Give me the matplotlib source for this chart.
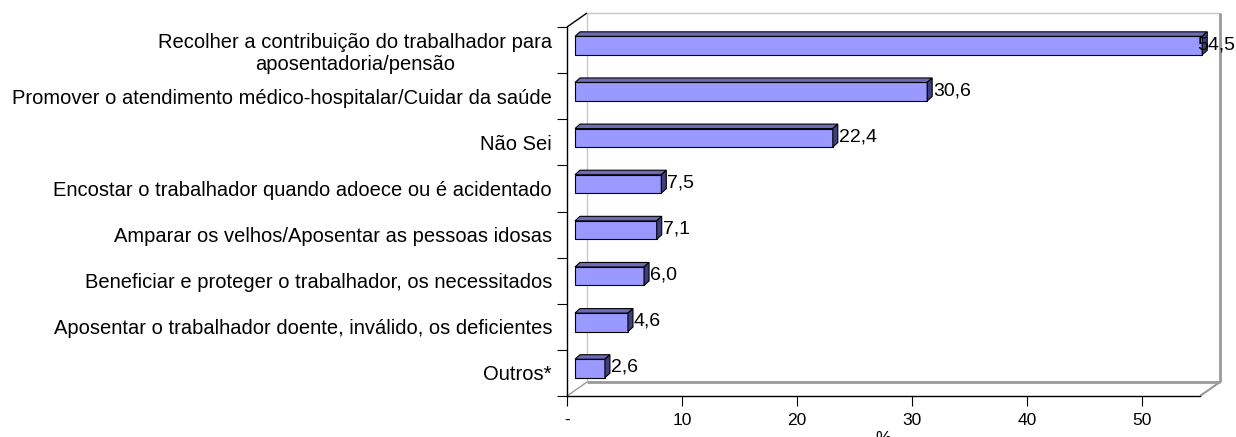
"""
Gráfico de barras 3D (estilo Excel): funções da Previdência Social segundo os entrevistados.
"""

import matplotlib.pyplot as plt
import numpy as np
from matplotlib.patches import Polygon

plt.rcParams["font.family"] = ["Liberation Sans", "DejaVu Sans"]

categories = [
    "Recolher a contribuição do trabalhador para\naposentadoria/pensão",
    "Promover o atendimento médico-hospitalar/Cuidar da saúde",
    "Não Sei",
    "Encostar o trabalhador quando adoece ou é acidentado",
    "Amparar os velhos/Aposentar as pessoas idosas",
    "Beneficiar e proteger o trabalhador, os necessitados",
    "Aposentar o trabalhador doente, inválido, os deficientes",
    "Outros*",
]
values = [54.5, 30.6, 22.4, 7.5, 7.1, 6.0, 4.6, 2.6]
x_ticks = [0, 10, 20, 30, 40, 50]
x_tick_labels = ["-", "10", "20", "30", "40", "50"]
x_max = 55

FACE = "#9999FF"
TOP = "#6B6BB8"
SIDE = "#3F3F80"
WALL_LIGHT = "#C8C8C8"
WALL_DARK = "#999999"

W, H = 1236, 437
fig = plt.figure(figsize=(W / 100, H / 100), dpi=100)
ax = fig.add_axes([567 / W, (H - 396) / H, 633 / W, 369 / H])

n = len(categories)
ax.set_xlim(0, x_max)
ax.set_ylim(n, 0)

# conversion pixels -> unités de données (y inversé)
ux = x_max / 633
uy = n / 369


def off(px, py):
    return px * ux, -py * uy


# parois 3D (mur du fond + plancher)
wdx, wdy = off(20, 14)
kw = dict(clip_on=False, solid_capstyle="butt")
ax.plot([wdx, x_max + wdx], [wdy, wdy], color=WALL_LIGHT, lw=1, **kw)
ax.plot([wdx, wdx], [wdy, n + wdy], color=WALL_LIGHT, lw=1, **kw)
ax.plot([x_max + wdx, x_max + wdx], [wdy, n + wdy], color=WALL_DARK, lw=2, **kw)
ax.plot([wdx, x_max + wdx], [n + wdy, n + wdy], color=WALL_DARK, lw=2, **kw)
ax.plot([x_max, x_max + wdx], [n, n + wdy], color=WALL_DARK, lw=1.5, **kw)
ax.plot([0, wdx], [n, n + wdy], color=WALL_DARK, lw=1, **kw)
ax.plot([0, wdx], [0, wdy], color="black", lw=1, **kw)

# barres
box, boy = off(8, 4.5)
ddx, ddy = off(5, 4.5)
bh = 0.4
labels = []
for i, v in enumerate(values):
    yc = i + 0.5 + boy
    x0, x1 = box, v + box
    y0, y1 = yc - bh / 2, yc + bh / 2
    pk = dict(edgecolor="black", lw=0.8, joinstyle="miter", clip_on=False, zorder=3)
    ax.add_patch(Polygon([(x0, y0), (x1, y0), (x1, y1), (x0, y1)], facecolor=FACE, **pk))
    ax.add_patch(Polygon([(x0, y0), (x1, y0), (x1 + ddx, y0 + ddy), (x0 + ddx, y0 + ddy)],
                         facecolor=TOP, **pk))
    ax.add_patch(Polygon([(x1, y0), (x1, y1), (x1 + ddx, y1 + ddy), (x1 + ddx, y0 + ddy)],
                         facecolor=SIDE, **pk))
    tx, ty = off(1, 1)
    t = ax.text(x1 + ddx + tx, yc + ty, f"{v:.1f}".replace(".", ","),
                ha="left", va="center", fontsize=14, zorder=4, clip_on=False)
    labels.append(t)

# axes
for side in ("top", "right"):
    ax.spines[side].set_visible(False)
for side in ("left", "bottom"):
    ax.spines[side].set_color("black")
    ax.spines[side].set_linewidth(1)

ax.set_yticks(np.arange(n + 1))
ax.set_yticks(np.arange(n) + 0.5, minor=True)
ax.set_yticklabels(categories, minor=True, fontsize=14.5, multialignment="center")
ax.tick_params(axis="y", which="major", length=7.2, width=0.8, labelleft=False)
ax.tick_params(axis="y", which="minor", length=0, pad=10.8)

ax.set_xticks(x_ticks, x_tick_labels, fontsize=12.5)
ax.tick_params(axis="x", length=7.2, width=0.8, pad=5)
ax.set_xlabel("%", fontsize=12.5, labelpad=2)

# comme Excel : une étiquette qui déborde est ramenée dans le cadre
fig.canvas.draw()
for t in labels:
    bb = t.get_window_extent()
    if bb.x1 > W - 1:
        x, y = t.get_position()
        t.set_position((x - (bb.x1 - (W - 1)) * ux, y))

fig.savefig("out.png", dpi=100)
